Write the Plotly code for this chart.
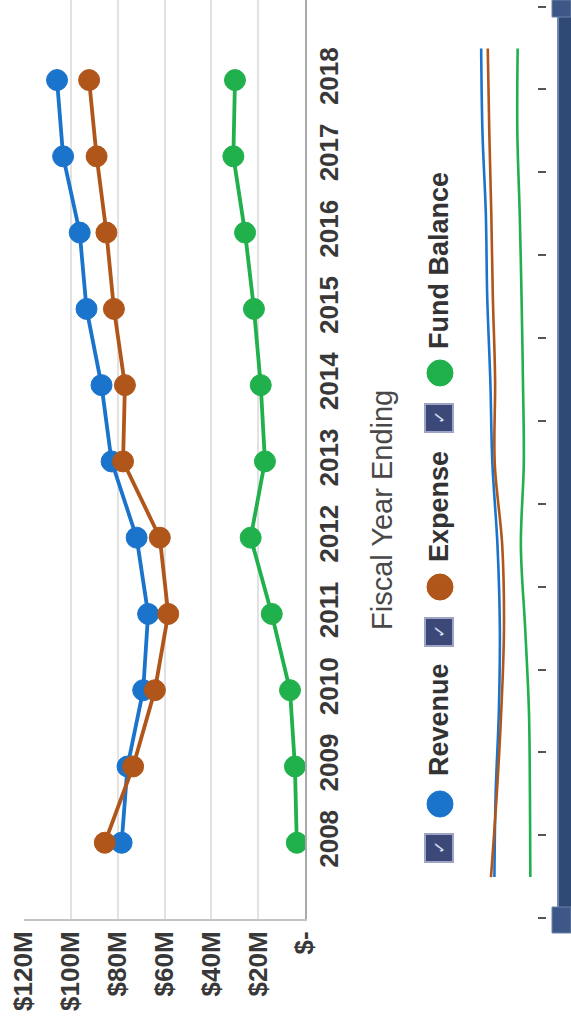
import plotly.graph_objects as go

# ---------------- data ----------------
years = [2008, 2009, 2010, 2011, 2012, 2013, 2014, 2015, 2016, 2017, 2018]
revenue = [78.3, 75.8, 69.1, 67.0, 71.9, 82.6, 86.9, 93.3, 96.2, 103.3, 105.9]
expense = [85.5, 73.4, 64.1, 58.4, 62.0, 77.7, 76.9, 81.6, 84.8, 89.0, 92.2]
fund_balance = [3.5, 4.3, 6.4, 14.2, 23.2, 17.1, 18.9, 21.8, 25.6, 30.6, 29.9]

series_names = ["Revenue", "Expense", "Fund Balance"]
series_values = [revenue, expense, fund_balance]
series_colors = ["#1a74cc", "#b0561a", "#20b04c"]

value_ticks = [0, 20, 40, 60, 80, 100, 120]
value_tick_labels = ["$-", "$20M", "$40M", "$60M", "$80M", "$100M", "$120M"]
x_axis_title = "Fiscal Year Ending"

W, H = 571, 1023


def px(x):
    return x / W


def py(y):
    return 1 - y / H


fig = go.Figure()

# main chart (rotated: values along horizontal, years along vertical)
for name, vals, col in zip(series_names, series_values, series_colors):
    fig.add_trace(go.Scatter(
        x=vals, y=years, mode="lines+markers", name=name,
        line=dict(color=col, width=3.8),
        marker=dict(color=col, size=21, line=dict(color=col, width=1)),
        xaxis="x", yaxis="y", showlegend=False,
    ))

# navigator (fiscal years end June 30)
nav_dates = [f"{y}-06-30" for y in years]
for name, vals, col in zip(series_names, series_values, series_colors):
    fig.add_trace(go.Scatter(
        x=vals, y=nav_dates, mode="lines", line=dict(color=col, width=2.6, shape="spline", smoothing=1.0),
        xaxis="x2", yaxis="y2", showlegend=False, hoverinfo="skip",
    ))

font_family = "Liberation Sans, Arial, sans-serif"
bold_tick = dict(size=26, color="#383838", family=font_family, weight="bold")

fig.update_layout(
    width=W, height=H,
    margin=dict(l=0, r=0, t=0, b=0),
    paper_bgcolor="white", plot_bgcolor="white",
    showlegend=False,
    font=dict(family=font_family),
    xaxis=dict(
        domain=[px(24), px(305)], range=[120, 0], anchor="y",
        tickvals=value_ticks, ticktext=value_tick_labels, tickangle=-90,
        tickfont=bold_tick,
        showgrid=True, gridcolor="#e2e2e2", gridwidth=1.5,
        zeroline=False, showline=True, linecolor="#c4c4c4", linewidth=2,
        ticks="", ticklabelstandoff=0, automargin=False,
    ),
    yaxis=dict(
        domain=[py(919), 1], range=[2007.0, 2019.05], anchor="x", side="right",
        tickvals=years, ticktext=[str(y) for y in years], tickangle=-90,
        tickfont=bold_tick,
        showgrid=False, zeroline=False, showline=True, linecolor="#a8a8a8", linewidth=2,
        ticks="", ticklabelstandoff=0, automargin=False,
    ),
    xaxis2=dict(
        domain=[px(470), px(537)], range=[129.2, -10.4], anchor="y2",
        visible=False,
    ),
    yaxis2=dict(
        domain=[py(932), 1], type="date", range=["2007-11-01", "2019-01-30"],
        anchor="x2", side="right", showline=False, showgrid=False, zeroline=False,
        ticks="outside", ticklen=8, tickwidth=2, tickcolor="#555555",
        tick0="2008-01-01", dtick="M12", showticklabels=False, automargin=False,
    ),
)

shapes = []
annotations = []

# axis title (rotated)
annotations.append(dict(
    x=px(382), y=py(510), xref="paper", yref="paper", text=x_axis_title,
    showarrow=False, textangle=-90, xanchor="center", yanchor="middle",
    font=dict(size=29, color="#484848", family=font_family),
))

# legend (rotated)
legend_layout = [  # (checkbox center y, circle center y, text center y)
    (848, 804, 720),
    (632, 587, 507),
    (418, 373, 261),
]
for (cb_y, c_y, t_y), name, col in zip(legend_layout, series_names, series_colors):
    shapes.append(dict(type="rect", xref="paper", yref="paper",
                       x0=px(425), x1=px(453), y0=py(cb_y + 14), y1=py(cb_y - 14),
                       fillcolor="#3c4878", line=dict(color="#9ea4c4", width=2)))
    annotations.append(dict(x=px(439), y=py(cb_y), xref="paper", yref="paper", text="✓",
                            showarrow=False, textangle=-90, font=dict(size=16, color="#d8e0f4"),
                            xanchor="center", yanchor="middle"))
    shapes.append(dict(type="circle", xref="paper", yref="paper",
                       x0=px(427), x1=px(453), y0=py(c_y + 13), y1=py(c_y - 13),
                       fillcolor=col, line=dict(color=col, width=1)))
    annotations.append(dict(x=px(439), y=py(t_y), xref="paper", yref="paper", text=name,
                            showarrow=False, textangle=-90, xanchor="center", yanchor="middle",
                            font=dict(size=27, color="#333333", family=font_family, weight="bold")))

# navigator scrollbar
shapes.append(dict(type="rect", xref="paper", yref="paper",
                   x0=px(557), x1=px(571), y0=py(930), y1=py(0),
                   fillcolor="#2f4a74", line=dict(width=0)))
shapes.append(dict(type="line", xref="paper", yref="paper",
                   x0=px(558), x1=px(558), y0=py(930), y1=py(0),
                   line=dict(color="#7088ad", width=2)))
for y0, y1 in [(0, 17), (907, 933)]:
    shapes.append(dict(type="rect", xref="paper", yref="paper",
                       x0=px(552), x1=px(571), y0=py(y1), y1=py(y0),
                       fillcolor="#3d5886", line=dict(color="#6b82a8", width=1)))

fig.update_layout(shapes=shapes, annotations=annotations)

fig.write_html("out.html")
